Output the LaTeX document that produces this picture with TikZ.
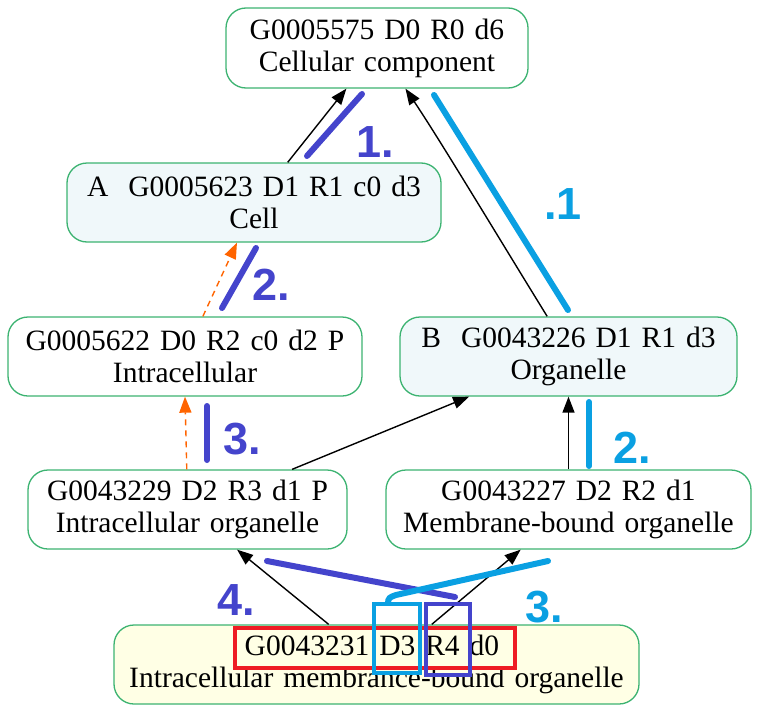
\documentclass[tikz,border=0pt]{standalone}
\usepackage{fontspec}
\setmainfont{Liberation Serif}
\newfontfamily\termfont{Liberation Serif}
\newfontfamily\labelfont{Liberation Sans Bold}
\usetikzlibrary{arrows.meta}

% term text: Times-metric serif with slightly wide word spaces
\newcommand\termtext{\termfont\fontsize{29.5}{32}\selectfont\spaceskip 10pt\relax}

\definecolor{boxgreen}{HTML}{3CB371}
\definecolor{cellfill}{HTML}{F0F8FA}
\definecolor{leaffill}{HTML}{FFFFE5}
\definecolor{markblue}{HTML}{4444CC}
\definecolor{marksky}{HTML}{0AA0E2}
\definecolor{dashorange}{HTML}{FF6400}
\definecolor{markred}{HTML}{EE1C24}

\tikzset{
  term/.style={draw=boxgreen, line width=1.3pt, rounded corners=20pt, fill=white,
    align=center, inner sep=0pt, font=\termtext},
  isa/.style={draw=black, line width=1.4pt, -{Triangle[length=16pt,width=12pt]}},
  partof/.style={draw=dashorange, line width=1.4pt, dash pattern=on 6pt off 5pt,
    -{Triangle[length=16pt,width=12pt]}},
  stroke/.style={line width=6pt, line cap=round},
  tag/.style={font=\labelfont\fontsize{45}{45}\selectfont, inner sep=0pt, anchor=base},
  frame/.style={line width=4pt}
}

\begin{document}
\begin{tikzpicture}[x=1pt, y=-1pt]
\useasboundingbox (0,0) rectangle (760,712);

% GO terms
\node[term, minimum width=302pt, minimum height=80pt] (top) at (377,48)
  {G0005575 D0 R0 d6\\Cellular component};
\node[term, fill=cellfill, minimum width=374pt, minimum height=79pt] (cell) at (254,202.5)
  {A\ \ G0005623 D1 R1 c0 d3\\Cell};
\node[term, minimum width=354pt, minimum height=79pt] (intra) at (185,356.5)
  {G0005622 D0 R2 c0 d2 P\\Intracellular};
\node[term, fill=cellfill, minimum width=337pt, minimum height=79pt] (organelle) at (568.5,356.5)
  {B\ \ G0043226 D1 R1 d3\\Organelle};
\node[term, minimum width=319pt, minimum height=79pt] (intraorg) at (187.5,509.5)
  {G0043229 D2 R3 d1 P\\Intracellular organelle};
\node[term, minimum width=365pt, minimum height=79pt] (membrane) at (568.5,509.5)
  {G0043227 D2 R2 d1\\Membrane-bound organelle};
\node[term, fill=leaffill, minimum width=525pt, minimum height=79pt] (leaf) at (376.5,664.5)
  {G0043231 D3 R4 d0\hspace*{9pt}\\Intracellular membrance-bound organelle};

% is_a / part_of relations
\draw[isa] (cell.50) -- (top.233);
\draw[isa] (organelle.118.6) .. controls (500,240) and (440,140) .. (top.305.9);
\draw[partof] (intra.66) -- (cell.247);
\draw[partof] (intraorg.91) -- (intra.south);
\draw[isa] (intraorg.21.7) -- (organelle.202.1);
\draw[isa] (membrane.north) -- (organelle.south);
\draw[isa] (leaf.140.3) -- (intraorg.321.1);
\draw[isa] (leaf.36.96) -- (membrane.220.7);

% path A (dark blue)
\draw[stroke, markblue] (307,156) -- (362,94);
\node[tag, text=markblue] (a1) at (375,157) {1.};
\draw[stroke, markblue] (222,308) -- (256,248);
\node[tag, text=markblue] (a2) at (271,300) {2.};
\draw[stroke, markblue] (207,406) -- (207,460);
\node[tag, text=markblue] (a3) at (242,454) {3.};
\draw[stroke, markblue] (267,561) -- (455,597);
\node[tag, text=markblue] (a4) at (236,615) {4.};

% path B (sky blue)
\draw[stroke, marksky] (434,95) -- (568,310);
\node[tag, text=marksky] (b1) at (563,219) {.1};
\draw[stroke, marksky] (589,402) -- (589,466);
\node[tag, text=marksky] (b2) at (632,463) {2.};
\draw[stroke, marksky] (388,603) .. controls (388,598) and (390,597) .. (396,595) -- (548,561);
\node[tag, text=marksky] (b3) at (544,622) {3.};

% highlighted fields of the leaf term
\draw[frame, markred] (235,628) rectangle (515,668);
\draw[frame, marksky] (374,604) rectangle (420,673);
\draw[frame, markblue] (426,604) rectangle (470,675);
\end{tikzpicture}
\end{document}
